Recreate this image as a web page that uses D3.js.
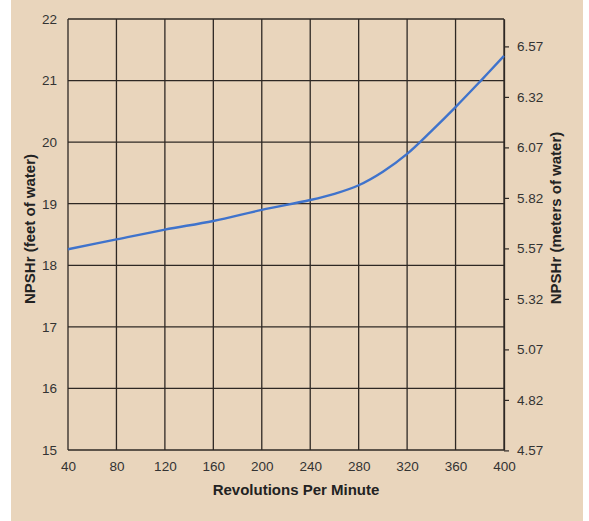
<!DOCTYPE html>
<html>
<head>
<meta charset="utf-8">
<script src="https://cdn.jsdelivr.net/npm/d3@7"></script>
<style>
  body { margin: 0; background: #fff; }
  svg text { font-family: "Liberation Sans", Arial, sans-serif; }
</style>
</head>
<body>
<script>
// readings, rpm vs NPSHr (feet)
var rpm  = [40, 80, 120, 160, 200, 240, 260, 280, 300, 320, 340, 360, 380, 400];
var feet = [18.26, 18.42, 18.58, 18.72, 18.90, 19.06, 19.16, 19.30, 19.52, 19.81, 20.18, 20.57, 20.98, 21.40];

var xTicks = [40, 80, 120, 160, 200, 240, 280, 320, 360, 400];
var ftTicks = [15, 16, 17, 18, 19, 20, 21, 22];
var mTicks = [4.57, 4.82, 5.07, 5.32, 5.57, 5.82, 6.07, 6.32, 6.57];

var W = 589, H = 521;
var margin = { top: 19, right: 85, bottom: 71, left: 68 };
var width = W - margin.left - margin.right,
    height = H - margin.top - margin.bottom;

var svg = d3.select("body").append("svg")
    .attr("width", W)
    .attr("height", H);

// tan panel
svg.append("rect")
  .attr("x", 11).attr("y", 0)
  .attr("width", 572).attr("height", H)
  .attr("fill", "#e9d5bc");

var g = svg.append("g")
  .attr("transform", "translate(" + margin.left + "," + margin.top + ")");

var x = d3.scaleLinear().domain([40, 400]).range([0, width]);
var y = d3.scaleLinear().domain([15, 22]).range([height, 0]);
// meters axis shares the same pixel mapping (1 ft = 0.3048 m)
var yM = d3.scaleLinear().domain([15 * 0.3048, 22 * 0.3048]).range([height, 0]);

var gridColor = "#2e2824";

// vertical grid
g.selectAll(".vgrid")
  .data(xTicks)
  .enter().append("line")
  .attr("class", "vgrid")
  .attr("x1", d => x(d)).attr("x2", d => x(d))
  .attr("y1", 0).attr("y2", height)
  .attr("stroke", gridColor)
  .attr("stroke-width", 1.3);

// horizontal grid
g.selectAll(".hgrid")
  .data(ftTicks)
  .enter().append("line")
  .attr("class", "hgrid")
  .attr("x1", 0).attr("x2", width)
  .attr("y1", d => y(d)).attr("y2", d => y(d))
  .attr("stroke", gridColor)
  .attr("stroke-width", 1.3);

// left axis labels
var left = g.append("g")
  .call(d3.axisLeft(y).tickValues(ftTicks).tickFormat(d3.format("d")).tickSize(0).tickPadding(11));
left.select(".domain").remove();
left.selectAll("text").attr("font-size", 13.5).attr("fill", "#333");

// bottom axis labels
var bottom = g.append("g")
  .attr("transform", "translate(0," + height + ")")
  .call(d3.axisBottom(x).tickValues(xTicks).tickSize(0).tickPadding(11));
bottom.select(".domain").remove();
bottom.selectAll("text").attr("font-size", 13.5).attr("fill", "#333");

// right axis (meters)
var right = g.append("g")
  .attr("transform", "translate(" + width + ",0)")
  .call(d3.axisRight(yM).tickValues(mTicks).tickFormat(d3.format(".2f"))
    .tickSizeInner(5).tickSizeOuter(0).tickPadding(8));
right.select(".domain").attr("stroke", gridColor).attr("stroke-width", 1.3);
right.selectAll("line").attr("stroke", gridColor).attr("stroke-width", 1.2);
right.selectAll("text").attr("font-size", 13.5).attr("fill", "#333");

// curve
var line = d3.line()
  .x((d, i) => x(rpm[i]))
  .y(d => y(d))
  .curve(d3.curveCatmullRom);

g.append("path")
  .datum(feet)
  .attr("d", line)
  .attr("fill", "none")
  .attr("stroke", "#3f73cc")
  .attr("stroke-width", 2.4);

// axis titles
svg.append("text")
  .attr("x", 296).attr("y", 495)
  .attr("text-anchor", "middle")
  .attr("font-size", 15).attr("font-weight", "bold").attr("fill", "#222")
  .text("Revolutions Per Minute");

svg.append("text")
  .attr("transform", "translate(35,229) rotate(-90)")
  .attr("text-anchor", "middle")
  .attr("font-size", 15).attr("font-weight", "bold").attr("fill", "#222")
  .text("NPSHr (feet of water)");

svg.append("text")
  .attr("transform", "translate(561,218) rotate(-90)")
  .attr("text-anchor", "middle")
  .attr("font-size", 15).attr("font-weight", "bold").attr("fill", "#222")
  .text("NPSHr (meters of water)");
</script>
</body>
</html>
